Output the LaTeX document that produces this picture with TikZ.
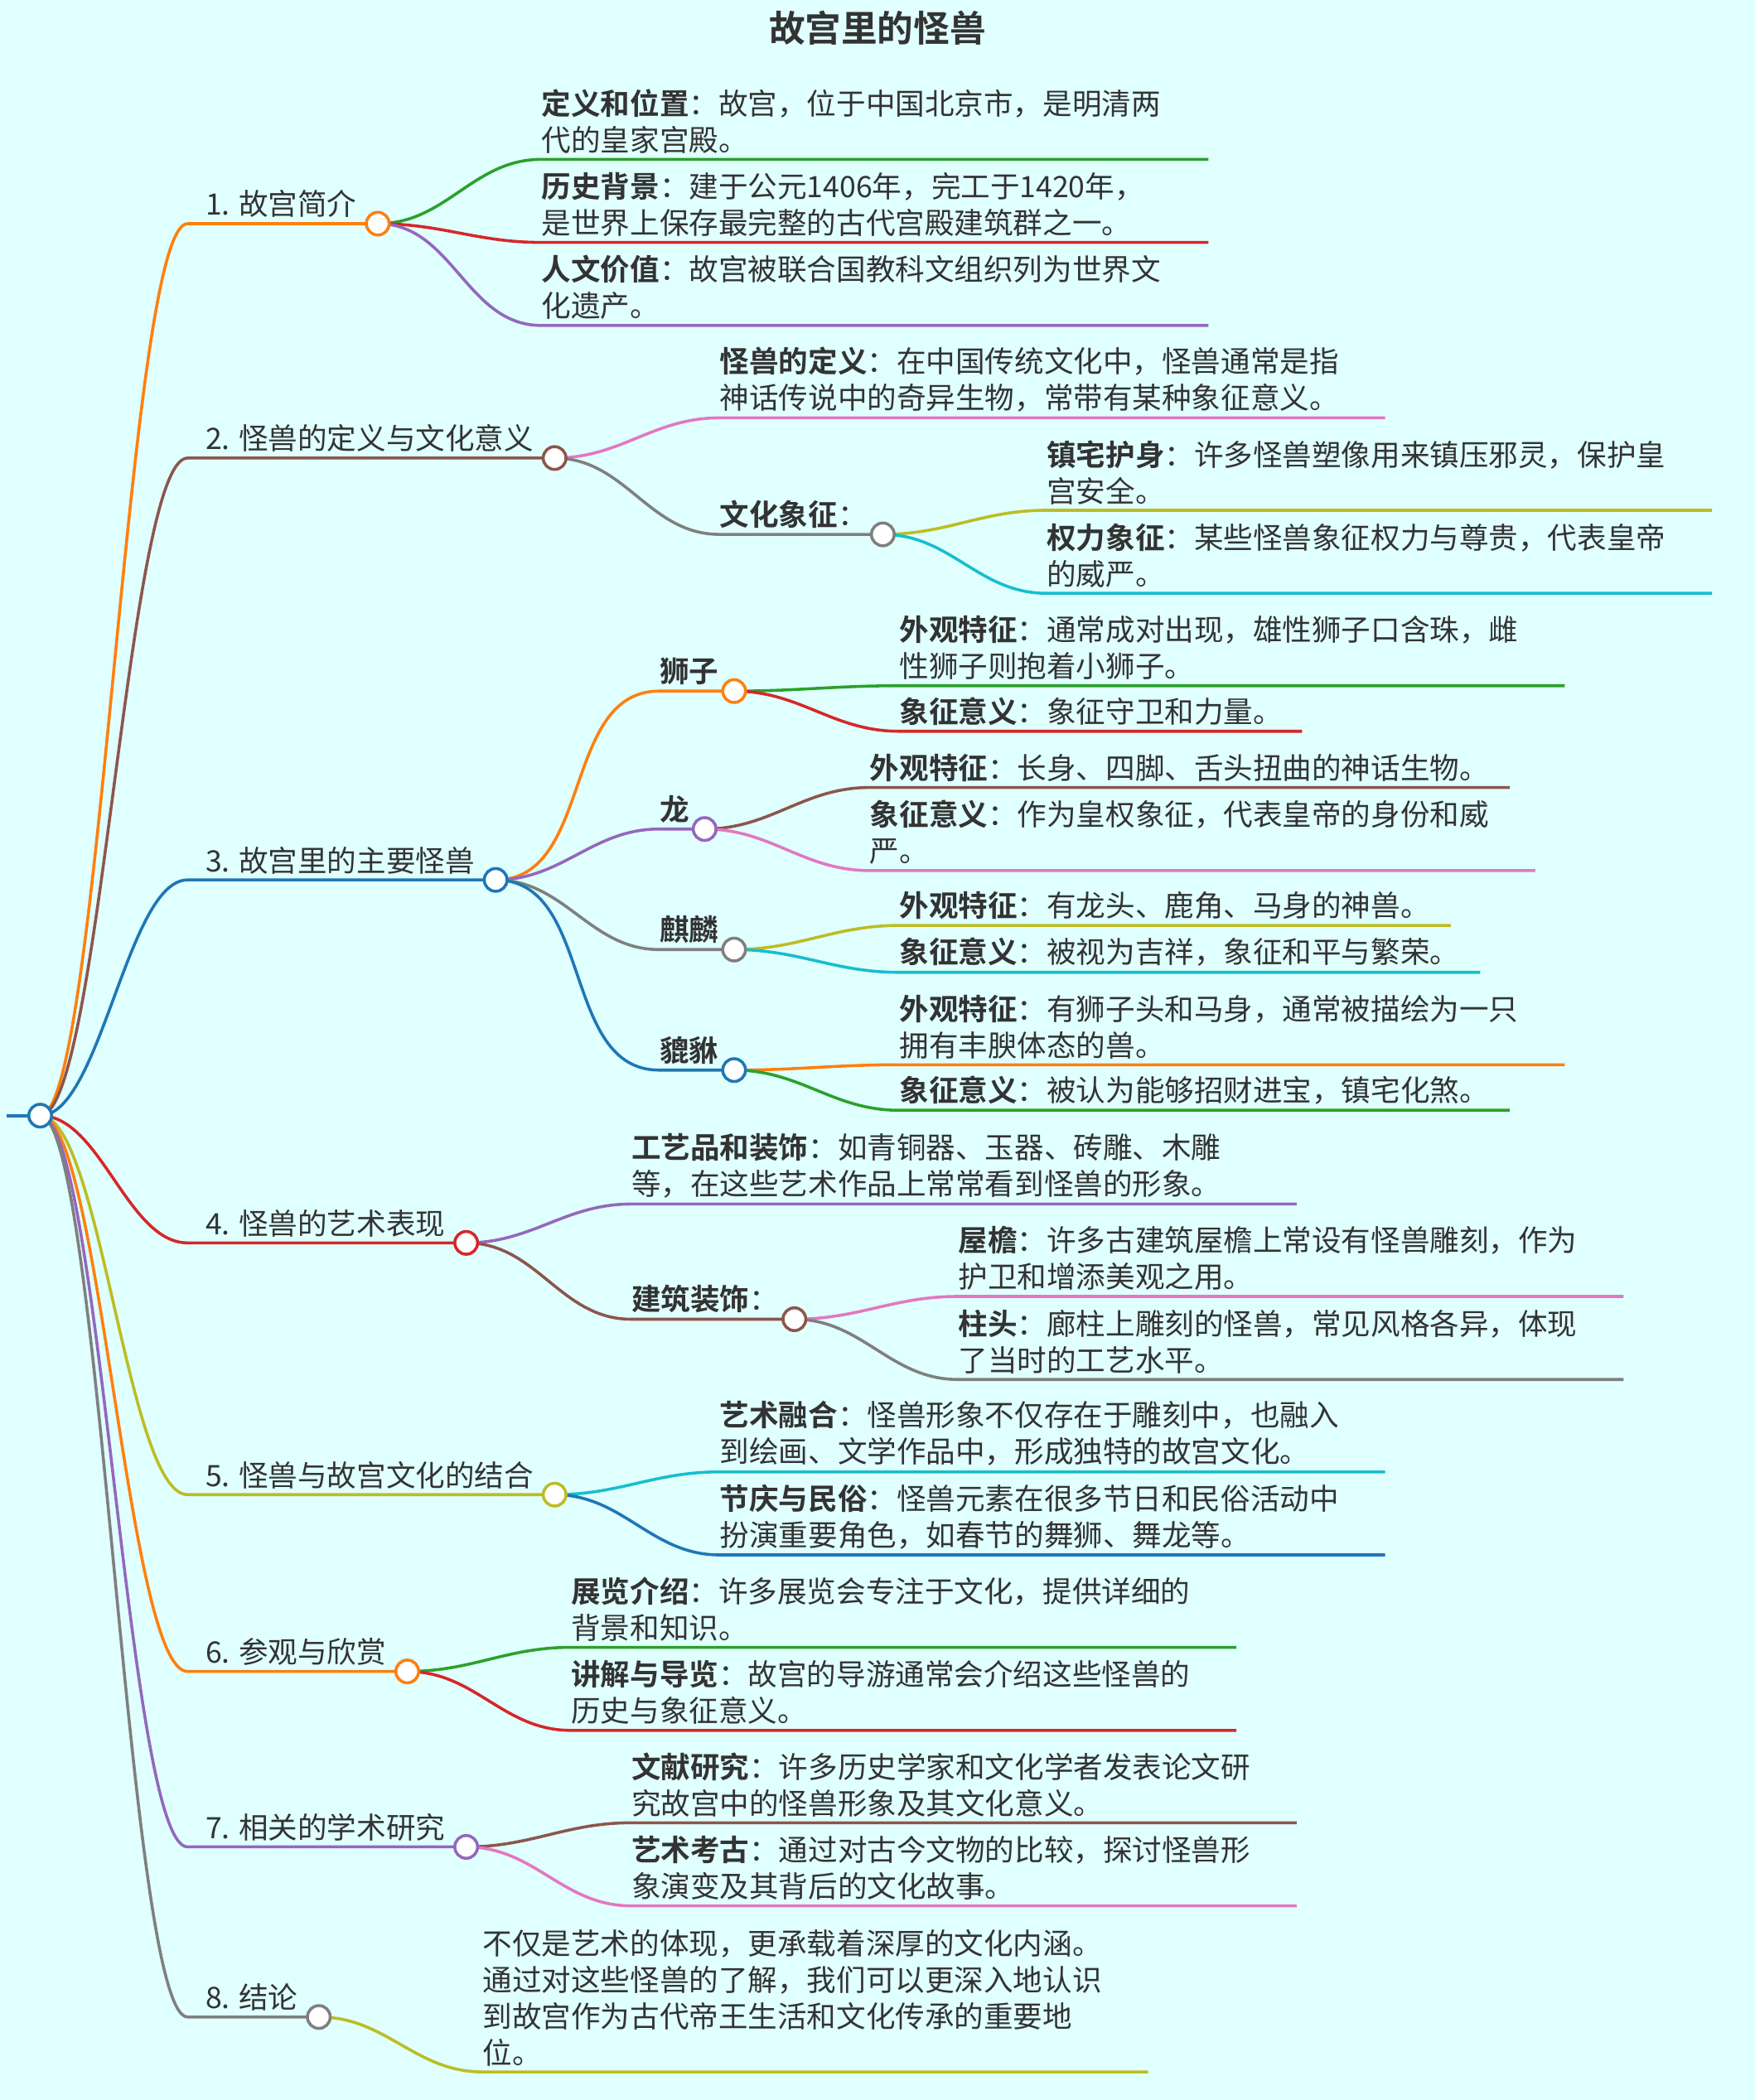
\documentclass[tikz,border=0pt]{standalone}
\usepackage{fontspec}
\setmainfont{Noto Sans CJK SC}[BoldFont=* Bold]
\begin{document}
\definecolor{bg}{HTML}{E0FFFF}
\definecolor{tx}{HTML}{333333}
\definecolor{cO}{HTML}{FF7F0E}\definecolor{cB}{HTML}{8C564B}\definecolor{cU}{HTML}{1F77B4}
\definecolor{cR}{HTML}{D62728}\definecolor{cY}{HTML}{BCBD22}\definecolor{cP}{HTML}{9467BD}
\definecolor{cG}{HTML}{7F7F7F}\definecolor{cN}{HTML}{2CA02C}\definecolor{cK}{HTML}{E377C2}
\definecolor{cC}{HTML}{17BECF}
\begin{tikzpicture}[x=0.5pt,y=-0.5pt,
  lnk/.style={line width=1.1pt},
  dotc/.style={circle,draw=#1,fill=white,line width=1.1pt,minimum size=8.5pt,inner sep=0},
  txt/.style={anchor=south west,inner sep=0,align=left,text=tx,font=\fontsize{11pt}{13.6pt}\selectfont}]
\fill[bg] (0,0) rectangle (1310,1568);
\useasboundingbox (0,0) rectangle (1310,1568);
\node[font=\bfseries\fontsize{13.5pt}{16pt}\selectfont,text=tx] (title) at (655,21) {故宫里的怪兽};
\newcommand\lf[7]{% parent, x, y, end, color, text, name
 \coordinate (#7s) at (#2,#3); \coordinate (#7e) at (#4,#3);
 \draw[lnk,#5] (#1) to[out=0,in=180] (#7s) -- (#7e);
 \node[txt] (#7t) at (#2,#3-4) {#6};}
\newcommand\mnode[8]{% parent, x, y, circle x, color, text, name, textx
 \coordinate (#7s) at (#2,#3); \coordinate (#7) at (#4,#3);
 \draw[lnk,#5] (#1) to[out=0,in=180] (#7s) -- (#7);
 \node[txt] (#7t) at (#8,#3-4) {#6};}
\newcommand\tnode[5]{% y, circle x, color, text, name
 \coordinate (#5s) at (140,#1); \coordinate (#5) at (#2,#1);
 \draw[lnk,#3] (root) .. controls (75,833) and (95,#1) .. (#5s) -- (#5);
 \node[txt] (#5t) at (153,#1-4) {#4};}
\coordinate (root) at (30,833);
\coordinate (rootl) at (5,833);
\draw[lnk,cU] (rootl) -- (root);
% level 1
\tnode{167}{282}{cO}{1. 故宫简介}{a}
\tnode{342}{414}{cB}{2. 怪兽的定义与文化意义}{b}
\tnode{657}{370}{cU}{3. 故宫里的主要怪兽}{c}
\tnode{928}{348}{cR}{4. 怪兽的艺术表现}{d}
\tnode{1116}{414}{cY}{5. 怪兽与故宫文化的结合}{e}
\tnode{1248}{304}{cO}{6. 参观与欣赏}{f}
\tnode{1379}{348}{cP}{7. 相关的学术研究}{g}
\tnode{1506}{238}{cG}{8. 结论}{h}
% branch 1
\lf{a}{404}{119}{902}{cN}{\textbf{定义和位置}：故宫，位于中国北京市，是明清两\\代的皇家宫殿。}{a1}
\lf{a}{404}{181}{902}{cR}{\textbf{历史背景}：建于公元1406年，完工于1420年，\\是世界上保存最完整的古代宫殿建筑群之一。}{a2}
\lf{a}{404}{243}{902}{cP}{\textbf{人文价值}：故宫被联合国教科文组织列为世界文\\化遗产。}{a3}
% branch 2
\lf{b}{537}{312}{1034}{cK}{\textbf{怪兽的定义}：在中国传统文化中，怪兽通常是指\\神话传说中的奇异生物，常带有某种象征意义。}{b1}
\mnode{b}{537}{399}{659}{cG}{\textbf{文化象征}：}{b2}{537}
\lf{b2}{781}{381}{1278}{cY}{\textbf{镇宅护身}：许多怪兽塑像用来镇压邪灵，保护皇\\宫安全。}{b21}
\lf{b2}{781}{443}{1278}{cC}{\textbf{权力象征}：某些怪兽象征权力与尊贵，代表皇帝\\的威严。}{b22}
% branch 3
\mnode{c}{492}{516}{548}{cO}{\textbf{狮子}}{c1}{492}
\lf{c1}{671}{512}{1168}{cN}{\textbf{外观特征}：通常成对出现，雄性狮子口含珠，雌\\性狮子则抱着小狮子。}{c11}
\lf{c1}{671}{546}{972}{cR}{\textbf{象征意义}：象征守卫和力量。}{c12}
\mnode{c}{492}{619}{526}{cP}{\textbf{龙}}{c2}{492}
\lf{c2}{649}{588}{1127}{cB}{\textbf{外观特征}：长身、四脚、舌头扭曲的神话生物。}{c21}
\lf{c2}{649}{650}{1146}{cK}{\textbf{象征意义}：作为皇权象征，代表皇帝的身份和威\\严。}{c22}
\mnode{c}{492}{709}{548}{cG}{\textbf{麒麟}}{c3}{492}
\lf{c3}{671}{691}{1083}{cY}{\textbf{外观特征}：有龙头、鹿角、马身的神兽。}{c31}
\lf{c3}{671}{726}{1105}{cC}{\textbf{象征意义}：被视为吉祥，象征和平与繁荣。}{c32}
\mnode{c}{492}{799}{548}{cU}{\textbf{貔貅}}{c4}{492}
\lf{c4}{671}{795}{1168}{cO}{\textbf{外观特征}：有狮子头和马身，通常被描绘为一只\\拥有丰腴体态的兽。}{c41}
\lf{c4}{671}{829}{1127}{cN}{\textbf{象征意义}：被认为能够招财进宝，镇宅化煞。}{c42}
% branch 4
\lf{d}{471}{899}{968}{cP}{\textbf{工艺品和装饰}：如青铜器、玉器、砖雕、木雕\\等，在这些艺术作品上常常看到怪兽的形象。}{d1}
\mnode{d}{471}{985}{593}{cB}{\textbf{建筑装饰}：}{d2}{471}
\lf{d2}{715}{968}{1212}{cK}{\textbf{屋檐}：许多古建筑屋檐上常设有怪兽雕刻，作为\\护卫和增添美观之用。}{d21}
\lf{d2}{715}{1030}{1212}{cG}{\textbf{柱头}：廊柱上雕刻的怪兽，常见风格各异，体现\\了当时的工艺水平。}{d22}
% branch 5
\lf{e}{537}{1099}{1034}{cC}{\textbf{艺术融合}：怪兽形象不仅存在于雕刻中，也融入\\到绘画、文学作品中，形成独特的故宫文化。}{e1}
\lf{e}{537}{1161}{1034}{cU}{\textbf{节庆与民俗}：怪兽元素在很多节日和民俗活动中\\扮演重要角色，如春节的舞狮、舞龙等。}{e2}
% branch 6
\lf{f}{426}{1230}{923}{cN}{\textbf{展览介绍}：许多展览会专注于文化，提供详细的\\背景和知识。}{f1}
\lf{f}{426}{1292}{923}{cR}{\textbf{讲解与导览}：故宫的导游通常会介绍这些怪兽的\\历史与象征意义。}{f2}
% branch 7
\lf{g}{471}{1361}{968}{cB}{\textbf{文献研究}：许多历史学家和文化学者发表论文研\\究故宫中的怪兽形象及其文化意义。}{g1}
\lf{g}{471}{1423}{968}{cK}{\textbf{艺术考古}：通过对古今文物的比较，探讨怪兽形\\象演变及其背后的文化故事。}{g2}
% branch 8
\lf{h}{360}{1547}{857}{cY}{不仅是艺术的体现，更承载着深厚的文化内涵。\\通过对这些怪兽的了解，我们可以更深入地认识\\到故宫作为古代帝王生活和文化传承的重要地\\位。}{h1}
% circles
\node[dotc=cU] (rootn) at (root) {};
\node[dotc=cO] (an) at (a) {};
\node[dotc=cB] (bn) at (b) {};
\node[dotc=cU] (cn) at (c) {};
\node[dotc=cR] (dn) at (d) {};
\node[dotc=cY] (en) at (e) {};
\node[dotc=cO] (fn) at (f) {};
\node[dotc=cP] (gn) at (g) {};
\node[dotc=cG] (hn) at (h) {};
\node[dotc=cG] (b2n) at (b2) {};
\node[dotc=cO] (c1n) at (c1) {};
\node[dotc=cP] (c2n) at (c2) {};
\node[dotc=cG] (c3n) at (c3) {};
\node[dotc=cU] (c4n) at (c4) {};
\node[dotc=cB] (d2n) at (d2) {};
\end{tikzpicture}
\end{document}
